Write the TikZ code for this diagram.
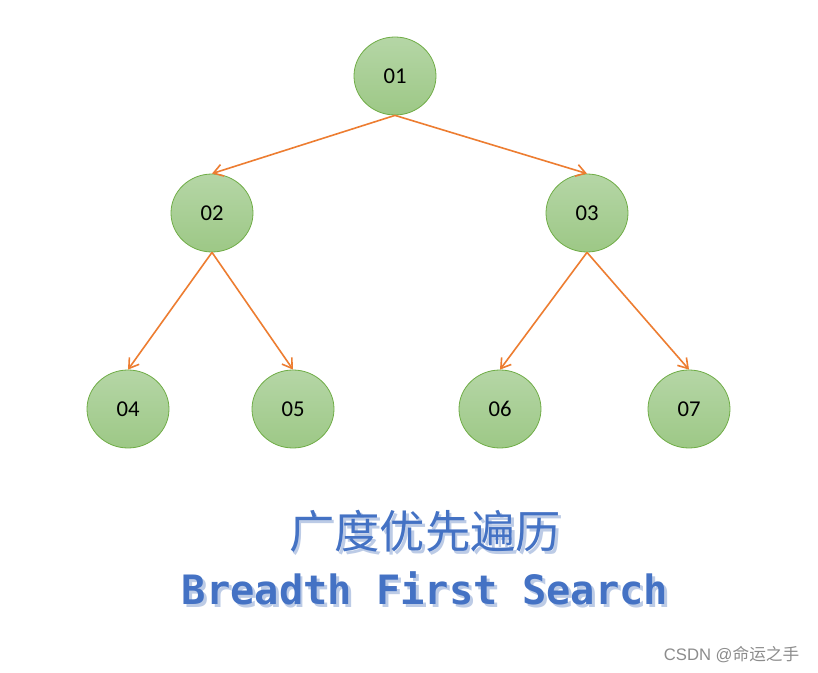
\documentclass[tikz,border=0pt]{standalone}
\usepackage{fontspec}
\setmainfont{Carlito}
\newfontfamily\cjk{Noto Sans CJK SC}
\newfontfamily\titlemono{DejaVu Sans Mono}
\newfontfamily\marksans{Liberation Sans}
\usepackage{xcolor}
\usepackage{tikz}
\usetikzlibrary{arrows.meta,positioning,shapes.geometric}

\definecolor{leafgreen}{HTML}{70AD47}
\definecolor{fillTop}{HTML}{B5D6A6}
\definecolor{fillBot}{HTML}{9DC886}
\definecolor{edgeorange}{HTML}{ED7D31}
\definecolor{titleblue}{HTML}{4472C4}
\definecolor{shadowblue}{HTML}{BCCBE6}

% text with a light shadow to the lower right
\newcommand{\shadowed}[1]{%
  \rlap{\hspace{2.2pt}\raisebox{-2.2pt}{\textcolor{shadowblue}{#1}}}%
  \textcolor{titleblue}{#1}}

\begin{document}
\begin{tikzpicture}[
    x=0.75pt, y=-0.75pt,
    vertex/.style={ellipse, draw=leafgreen, line width=0.6pt,
      top color=fillTop, bottom color=fillBot,
      minimum width=61.5pt, minimum height=58.5pt, inner sep=0pt,
      font=\fontsize{17}{20}\selectfont},
    arrow/.style={-{Straight Barb[length=7pt,width=9pt]}, edgeorange, line width=1.2pt},
    cntitle/.style={font=\cjk\fontsize{34}{40}\selectfont},
    entitle/.style={font=\titlemono\bfseries\fontsize{30.3}{36}\selectfont},
    watermark/.style={font=\marksans\fontsize{12.5}{14}\selectfont, text=black!45}
  ]
    \useasboundingbox[fill=white] (0,0) rectangle (818,673);

    % tree
    \node[vertex] (n1) at (395,76) {01};
    \node[vertex] (n2) at (212,213) {02};
    \node[vertex] (n3) at (587,213) {03};
    \node[vertex] (n4) at (128,409) {04};
    \node[vertex] (n5) at (293,409) {05};
    \node[vertex] (n6) at (500,409) {06};
    \node[vertex] (n7) at (689,409) {07};

    \draw[arrow] (n1.south) -- (n2.north);
    \draw[arrow] (n1.south) -- (n3.north);
    \draw[arrow] (n2.south) -- (n4.north);
    \draw[arrow] (n2.south) -- (n5.north);
    \draw[arrow] (n3.south) -- (n6.north);
    \draw[arrow] (n3.south) -- (n7.north);

    % title
    \node[cntitle] (cn) at (425,533) {\shadowed{广度优先遍历}};
    \node[entitle] (en) at (425,590) {\shadowed{Breadth First Search}};

    \node[watermark, anchor=east] (wm) at (804,655) {CSDN @\cjk 命运之手};
  \end{tikzpicture}
\end{document}
